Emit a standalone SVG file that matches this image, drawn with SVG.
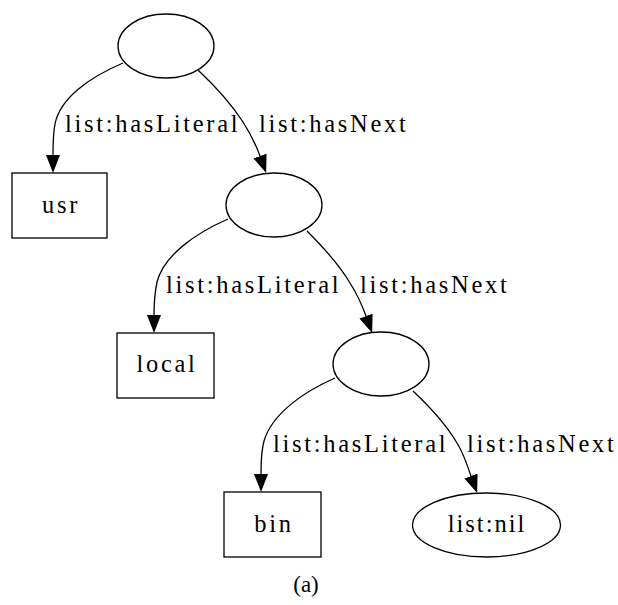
<svg xmlns="http://www.w3.org/2000/svg" width="618" height="605" viewBox="0 0 618 605">
<style>
.shape{fill:#fff;stroke:#000;stroke-width:1.3}
.edge{fill:none;stroke:#000;stroke-width:1.3}
.t{font-family:"Liberation Serif","Times New Roman",serif;font-size:24.5px;letter-spacing:2.7px;fill:#000}
.c{text-anchor:middle}
</style>
<defs>
<marker id="arr" viewBox="0 0 18 14" refX="0" refY="7" markerWidth="18" markerHeight="14" markerUnits="userSpaceOnUse" orient="auto">
<polygon points="0,0 18,7 0,14" fill="#000"/>
</marker>
</defs>
<rect width="618" height="605" fill="#fff"/>
<g id="connectors">
<path class="edge" marker-end="url(#arr)" d="M123,63 C90,77 60,98 55,124 C53,134 53,145 53,155"/>
<path class="edge" marker-end="url(#arr)" d="M198,70 C215,86 232,105 243,122 C250,133 256,145 260,156"/>
<path class="edge" marker-end="url(#arr)" d="M228,219 C196,233 164,255 157,282 C155,292 154,303 154,315"/>
<path class="edge" marker-end="url(#arr)" d="M307,231 C323,247 340,266 350,283 C357,294 362,305 366,316"/>
<path class="edge" marker-end="url(#arr)" d="M335,378 C303,392 272,414 264,441 C261,452 261,463 261,474"/>
<path class="edge" marker-end="url(#arr)" d="M413,391 C430,407 447,426 457,443 C464,454 467,465 471,476"/>
<text class="t" x="65" y="132">list:hasLiteral</text>
<text class="t" x="259" y="132">list:hasNext</text>
<text class="t" x="166" y="293">list:hasLiteral</text>
<text class="t" x="360" y="293">list:hasNext</text>
<text class="t" x="273" y="452">list:hasLiteral</text>
<text class="t" x="467" y="452">list:hasNext</text>
</g>
<g id="n1"><ellipse class="shape" cx="166" cy="46" rx="48" ry="32"/></g>
<g id="n_usr"><rect class="shape" x="12" y="173" width="95" height="65"/><text class="t c" x="61" y="213">usr</text></g>
<g id="n2"><ellipse class="shape" cx="274" cy="205" rx="48" ry="32"/></g>
<g id="n_local"><rect class="shape" x="117" y="333" width="97" height="65"/><text class="t c" x="167" y="372">local</text></g>
<g id="n3"><ellipse class="shape" cx="381" cy="364" rx="48" ry="32"/></g>
<g id="n_bin"><rect class="shape" x="224" y="492" width="97" height="65"/><text class="t c" x="274" y="532">bin</text></g>
<g id="n_nil"><ellipse class="shape" cx="486.5" cy="525" rx="74" ry="32"/><text class="t c" style="letter-spacing:2px" x="487" y="532">list:nil</text></g>
<text x="306" y="592" text-anchor="middle" font-family="Liberation Serif, serif" font-size="23" fill="#000">(a)</text>
</svg>
